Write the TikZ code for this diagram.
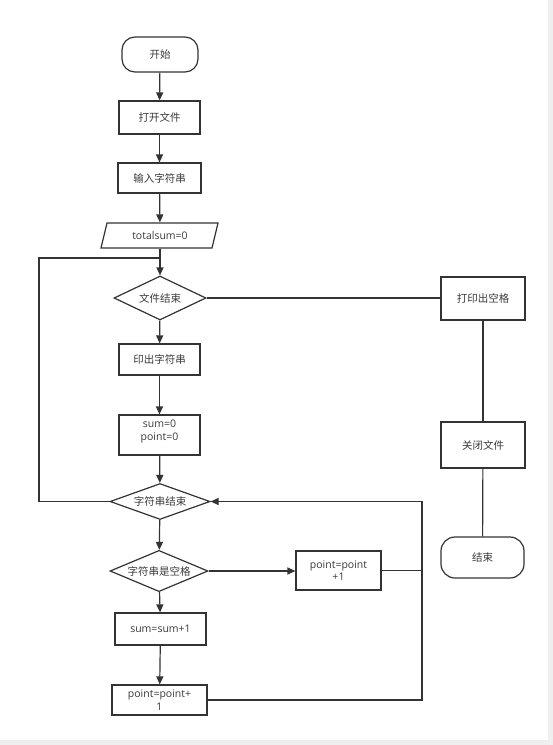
\documentclass[tikz,border=0pt]{standalone}
\usepackage{fontspec}
\setmainfont{Open Sans}
\newfontfamily\cjk{Noto Sans CJK SC}
\usetikzlibrary{shapes.geometric,arrows.meta,calc}
\definecolor{ln}{HTML}{333333}
\definecolor{tx}{HTML}{3A3A3A}
\definecolor{edge}{HTML}{EFEFEF}
\tikzset{
  base/.style={draw=ln, line width=1.2pt, text=tx, font=\fontsize{10.5}{12.5}\selectfont, align=center, inner sep=1pt},
  box/.style={base, rectangle},
  term/.style={base, rectangle, rounded corners=13pt},
  dec/.style={base, diamond, aspect=2, inner sep=0pt},
  conn/.style={draw=ln, line width=1.2pt},
  arr/.style={conn, -{Triangle[length=8pt,width=7pt]}}
}
\begin{document}
\begin{tikzpicture}[x=1pt,y=-1pt]
\useasboundingbox (0,0) rectangle (553,745);
\fill[white] (0,0) rectangle (553,745);
\fill[edge] (548,0) rectangle (553,745);
\fill[edge] (0,740) rectangle (553,745);

\node[term, minimum width=76pt, minimum height=35pt] (start) at (160,54.5) {\cjk 开始};
\node[box, minimum width=81pt, minimum height=33pt] (open) at (159.5,117.5) {\cjk 打开文件};
\node[box, minimum width=83pt, minimum height=30pt] (input) at (159.5,178) {\cjk 输入字符串};
\draw[conn, fill=white] (107,223) -- (218,223) -- (212,248) -- (101,248) -- cycle;
\node[base, draw=none, minimum width=100pt, minimum height=25pt] (tot) at (160,235.5) {totalsum=0};
\node[dec, minimum width=92pt, minimum height=44pt] (fend) at (160,298) {\cjk 文件结束};
\node[box, minimum width=84pt, minimum height=43pt] (printsp) at (483,298.5) {\cjk 打印出空格};
\node[box, minimum width=84pt, minimum height=46pt] (close) at (483,445) {\cjk 关闭文件};
\node[term, rounded corners=14pt, minimum width=83pt, minimum height=41pt] (endn) at (482.5,557.5) {\cjk 结束};
\node[box, minimum width=81pt, minimum height=31pt] (printstr) at (159.5,359.5) {\cjk 印出字符串};
\node[box, minimum width=81pt, minimum height=40pt, text depth=10pt] (init) at (159.5,435) {sum=0\\point=0};
\node[dec, minimum width=100pt, minimum height=33pt] (send) at (160,501.5) {\cjk 字符串结束};
\node[dec, minimum width=98pt, minimum height=40pt] (isp) at (159,571) {\cjk 字符串是空格};
\node[box, minimum width=85pt, minimum height=39pt] (pp1) at (338.5,570.5) {point=point\\+1};
\node[box, minimum width=91pt, minimum height=32pt] (sumi) at (160.5,629) {sum=sum+1};
\node[box, minimum width=95pt, minimum height=30pt] (pp2) at (159.5,700) {point=point+\\1};

\coordinate (lc) at (39,258);
\coordinate (jn) at (160,258);
\coordinate (rc) at (422,501.5);

\draw[arr] (start) -- (open);
\draw[arr] (open) -- (input);
\draw[arr] (input) -- (tot);
\draw[arr] (tot) -- (fend);
\draw[arr] (fend) -- (printstr);
\draw[arr] (printstr) -- (init);
\draw[arr] (init) -- (send);
\draw[arr] (send) -- (isp);
\draw[arr] (isp) -- (sumi);
\draw[arr] (sumi) -- (pp2);
\draw[arr] (isp.east) -- (pp1.west |- isp.east);
\draw[conn] (fend.east) -- (printsp.west |- fend.east);
\draw[conn] (printsp) -- (close);
\draw[conn] (close) -- (endn);
\draw[conn] (send.west) -| (lc) -- (jn);
\draw[arr] (pp2.east) -| (rc) -- (send.east);
\draw[conn] (pp1.east) -- (pp1.east -| rc);
\end{tikzpicture}
\end{document}
